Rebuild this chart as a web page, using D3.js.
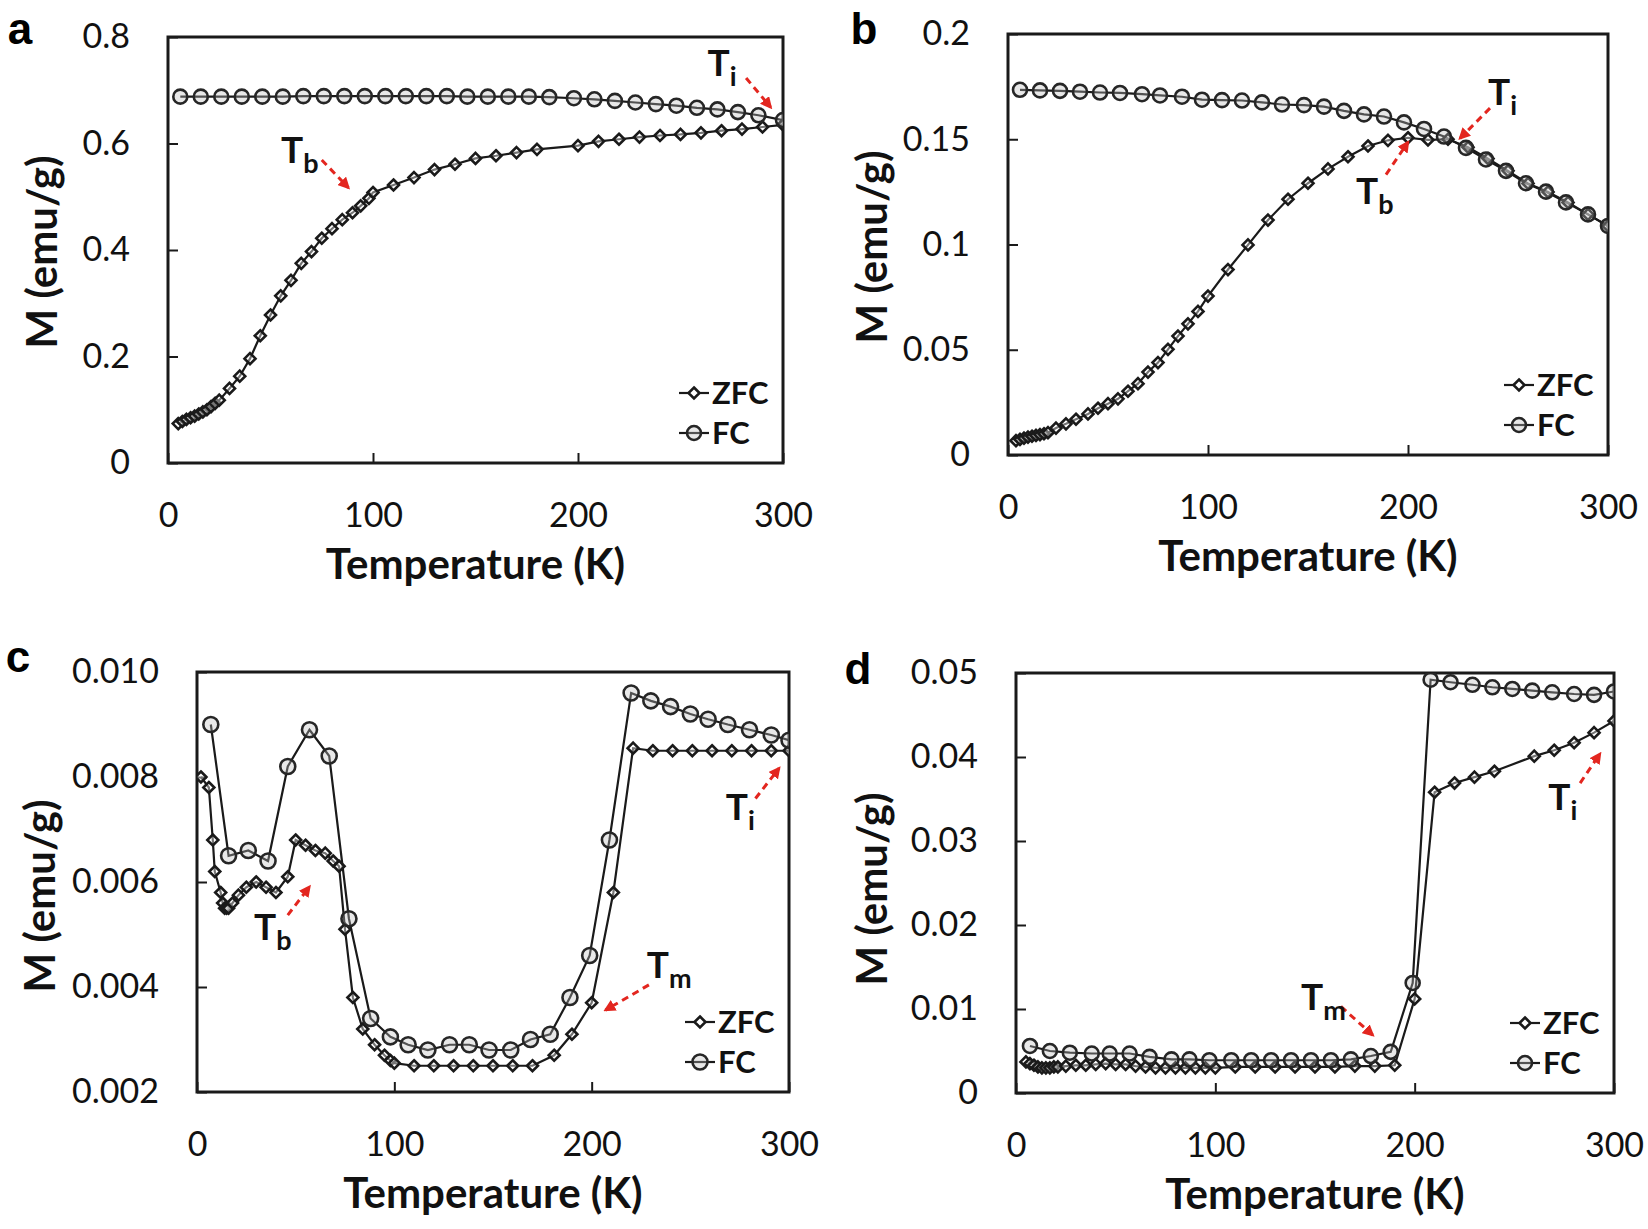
<!DOCTYPE html>
<html>
<head>
<meta charset="utf-8">
<script src="https://cdn.jsdelivr.net/npm/d3@7"></script>
<style>
  body { margin: 0; background: #fff; }
  svg { display: block; }
</style>
</head>
<body>
<script>
// panel a data
const aZfcT = [5, 7, 9, 11, 13, 15, 17, 19, 21, 23, 25, 30, 35, 40, 45, 50, 55, 60, 65, 70, 75, 80, 85, 90, 94, 98, 100, 110, 120, 130, 140, 150, 160, 170, 180, 200, 210, 220, 230, 240, 250, 260, 270, 280, 290, 300];
const aZfcM = [0.074, 0.078, 0.082, 0.085, 0.088, 0.092, 0.096, 0.1, 0.106, 0.112, 0.118, 0.14, 0.163, 0.196, 0.239, 0.278, 0.314, 0.343, 0.375, 0.397, 0.422, 0.44, 0.457, 0.47, 0.483, 0.497, 0.508, 0.522, 0.536, 0.551, 0.561, 0.572, 0.577, 0.583, 0.589, 0.596, 0.604, 0.608, 0.612, 0.615, 0.617, 0.62, 0.624, 0.627, 0.631, 0.635];
const aFcT = [6, 16, 26, 36, 46, 56, 66, 76, 86, 96, 106, 116, 126, 136, 146, 156, 166, 176, 186, 198, 208, 218, 228, 238, 248, 258, 268, 278, 288, 300];
const aFcM = [0.688, 0.688, 0.688, 0.688, 0.688, 0.688, 0.689, 0.689, 0.689, 0.689, 0.689, 0.689, 0.689, 0.689, 0.688, 0.688, 0.688, 0.688, 0.687, 0.685, 0.683, 0.68, 0.677, 0.674, 0.671, 0.667, 0.664, 0.659, 0.653, 0.644];

// panel b data
const bZfcT = [4, 6, 8, 10, 12, 14, 16, 18, 20, 24, 29, 34, 40, 45, 50, 55, 60, 65, 70, 75, 80, 85, 90, 95, 100, 110, 120, 130, 140, 150, 160, 170, 180, 190, 200, 210, 220, 230, 240, 250, 260, 270, 280, 290, 300];
const bZfcM = [0.0068, 0.0074, 0.008, 0.0085, 0.0089, 0.0093, 0.0097, 0.0101, 0.0106, 0.0128, 0.0148, 0.017, 0.0195, 0.0222, 0.0244, 0.0267, 0.0303, 0.0339, 0.0394, 0.0439, 0.0502, 0.0565, 0.0623, 0.0682, 0.0755, 0.0881, 0.0998, 0.1116, 0.1215, 0.1291, 0.1359, 0.1417, 0.1468, 0.1495, 0.1507, 0.1497, 0.15, 0.1462, 0.1408, 0.135, 0.129, 0.125, 0.12, 0.1143, 0.1088];
const bFcT = [6, 16, 26, 36, 46, 56, 67, 76, 87, 97, 107, 117, 127, 137, 148, 158, 168, 178, 188, 198, 208, 218, 229, 239, 249, 259, 269, 279, 290, 300];
const bFcM = [0.1735, 0.1732, 0.173, 0.1726, 0.1722, 0.172, 0.1714, 0.1708, 0.1702, 0.1688, 0.1686, 0.1684, 0.1675, 0.1665, 0.1662, 0.1655, 0.1635, 0.1618, 0.1608, 0.158, 0.1549, 0.1513, 0.1459, 0.1404, 0.135, 0.1291, 0.1251, 0.12, 0.1143, 0.1088];

// panel c data
const cZfcT = [2, 6, 8, 9, 12, 13, 14, 15, 16, 18, 21, 25, 30, 35, 40, 46, 50, 55, 60, 65, 69, 72, 75, 79, 84, 90, 95, 98, 100, 110, 120, 130, 140, 150, 160, 170, 181, 190, 200, 211, 221, 231, 241, 251, 261, 271, 281, 291, 300];
const cZfcM = [0.008, 0.0078, 0.0068, 0.0062, 0.0058, 0.0056, 0.0055, 0.0055, 0.0055, 0.0056, 0.00575, 0.0059, 0.006, 0.0059, 0.0058, 0.0061, 0.0068, 0.0067, 0.0066, 0.00655, 0.0064, 0.0063, 0.0051, 0.0038, 0.0032, 0.0029, 0.0027, 0.0026, 0.00255, 0.0025, 0.0025, 0.0025, 0.0025, 0.0025, 0.0025, 0.0025, 0.0027, 0.0031, 0.0037, 0.0058, 0.00855, 0.0085, 0.0085, 0.0085, 0.0085, 0.0085, 0.0085, 0.0085, 0.0085];
const cFcT = [7, 16, 26, 36, 46, 57, 67, 77, 88, 98, 107, 117, 128, 138, 148, 159, 169, 179, 189, 199, 209, 220, 230, 240, 250, 259, 269, 280, 291, 300];
const cFcM = [0.009, 0.0065, 0.0066, 0.0064, 0.0082, 0.0089, 0.0084, 0.0053, 0.0034, 0.00305, 0.0029, 0.0028, 0.0029, 0.0029, 0.0028, 0.0028, 0.003, 0.0031, 0.0038, 0.0046, 0.0068, 0.0096, 0.00945, 0.00934, 0.0092, 0.0091, 0.009, 0.0089, 0.0088, 0.0087];

// panel d data
const dZfcT = [5, 7, 9, 11, 13, 15, 17, 19, 21, 25, 30, 35, 40, 45, 50, 55, 60, 65, 70, 75, 80, 85, 90, 95, 100, 110, 120, 130, 140, 150, 160, 170, 180, 190, 200, 210, 220, 230, 240, 260, 270, 280, 290, 300];
const dZfcM = [0.0037, 0.0035, 0.0033, 0.0031, 0.003, 0.003, 0.003, 0.0031, 0.0031, 0.0032, 0.0033, 0.0033, 0.0034, 0.0035, 0.0034, 0.0034, 0.0032, 0.0031, 0.003, 0.003, 0.003, 0.003, 0.003, 0.003, 0.003, 0.0031, 0.0031, 0.0031, 0.0031, 0.0031, 0.0031, 0.0032, 0.0032, 0.0033, 0.0112, 0.0358, 0.0369, 0.0376, 0.0383, 0.0401, 0.0408, 0.0417, 0.0429, 0.0443];
const dFcT = [7, 17, 27, 38, 47, 57, 67, 78, 87, 97, 108, 118, 128, 138, 148, 158, 168, 178, 188, 199, 208, 218, 229, 239, 249, 259, 269, 280, 290, 300];
const dFcM = [0.0056, 0.005, 0.0048, 0.0047, 0.0047, 0.0047, 0.0043, 0.004, 0.004, 0.0039, 0.0039, 0.0039, 0.0039, 0.0039, 0.0039, 0.0039, 0.004, 0.0044, 0.0049, 0.0131, 0.0492, 0.0489, 0.0486, 0.0483, 0.0481, 0.0479, 0.0477, 0.0475, 0.0474, 0.0478];

// tick values
const xTicks = [0, 100, 200, 300];
const aTicks = [0, 0.2, 0.4, 0.6, 0.8];
const bTicks = [0, 0.05, 0.1, 0.15, 0.2];
const cTicks = [0.002, 0.004, 0.006, 0.008, 0.01];
const dTicks = [0, 0.01, 0.02, 0.03, 0.04, 0.05];

// annotations: label pos [T, M], arrow from/to
const aNotes = [
  { name: "T", sub: "i", at: [269, 0.752], from: [282, 0.723], to: [294, 0.668] },
  { name: "T", sub: "b", at: [61, 0.587], from: [75, 0.569], to: [88, 0.517] },
];
const bNotes = [
  { name: "T", sub: "i", at: [246, 0.1725], from: [241, 0.1648], to: [226, 0.1504] },
  { name: "T", sub: "b", at: [180, 0.1255], from: [189, 0.1332], to: [200, 0.1486] },
];
const cNotes = [
  { name: "T", sub: "b", at: [35, 0.00515], from: [46, 0.00537], to: [57, 0.00591] },
  { name: "T", sub: "i", at: [274, 0.00742], from: [283, 0.00759], to: [295, 0.00817] },
  { name: "T", sub: "m", at: [234, 0.00442], from: [229, 0.00404], to: [207, 0.00356] },
];
const dNotes = [
  { name: "T", sub: "m", at: [149, 0.0114], from: [163, 0.0103], to: [179, 0.00688] },
  { name: "T", sub: "i", at: [273, 0.0352], from: [283, 0.0369], to: [293, 0.0404] },
];

const zip = (ts, ms) => ts.map((t, i) => ({ t: t, m: ms[i] }));

const panels = [
  { id: "a", left: 168, right: 783, top: 37, bottom: 463, yMax: 0.8, yMin: 0, yTicks: aTicks, fmt: d3.format(""),
    zfc: zip(aZfcT, aZfcM), fc: zip(aFcT, aFcM), notes: aNotes, letter: [20, 44], yTitle: [42, 252], r: 7 },
  { id: "b", left: 1008, right: 1608, top: 34, bottom: 455, yMax: 0.2, yMin: 0, yTicks: bTicks, fmt: d3.format(""),
    zfc: zip(bZfcT, bZfcM), fc: zip(bFcT, bFcM), notes: bNotes, letter: [864, 44], yTitle: [872, 247], r: 7 },
  { id: "c", left: 197, right: 789, top: 672, bottom: 1092, yMax: 0.01, yMin: 0.002, yTicks: cTicks, fmt: d3.format(".3f"),
    zfc: zip(cZfcT, cZfcM), fc: zip(cFcT, cFcM), notes: cNotes, letter: [18, 672], yTitle: [40, 896], r: 7.5 },
  { id: "d", left: 1016, right: 1614, top: 673, bottom: 1093, yMax: 0.05, yMin: 0, yTicks: dTicks, fmt: d3.format(""),
    zfc: zip(dZfcT, dZfcM), fc: zip(dFcT, dFcM), notes: dNotes, letter: [858, 684], yTitle: [872, 889], r: 7 },
];

const W = 1648;
const H = 1229;
const ink = "#1a1a1a";
const red = "#e3261f";
const font = "Lato, 'Open Sans', sans-serif";

const svg = d3.select("body").append("svg").attr("width", W).attr("height", H);
svg.append("rect").attr("width", W).attr("height", H).attr("fill", "#fff");

const defs = svg.append("defs");
defs.append("marker")
  .attr("id", "arrow")
  .attr("viewBox", "0 0 10 10")
  .attr("refX", 8)
  .attr("refY", 5)
  .attr("markerWidth", 4)
  .attr("markerHeight", 4)
  .attr("orient", "auto")
  .append("path")
  .attr("d", "M0,0 L10,5 L0,10 Z")
  .attr("fill", red);

// diamond path
const diamond = (s) => `M0,${-s} L${s},0 L0,${s} L${-s},0 Z`;

function drawPanel(p) {
  const x = d3.scaleLinear().domain([0, 300]).range([p.left, p.right]);
  const y = d3.scaleLinear().domain([p.yMin, p.yMax]).range([p.bottom, p.top]);
  const g = svg.append("g").attr("class", "panel-" + p.id);

  defs.append("clipPath")
    .attr("id", "clip-" + p.id)
    .append("rect")
    .attr("x", p.left)
    .attr("y", p.top)
    .attr("width", p.right - p.left)
    .attr("height", p.bottom - p.top);

  // axes with inward ticks
  const xAxis = g.append("g")
    .attr("transform", `translate(0,${p.bottom})`)
    .call(d3.axisBottom(x).tickValues(xTicks).tickSize(-10).tickPadding(40).tickFormat(d3.format("d")));
  const yAxis = g.append("g")
    .attr("transform", `translate(${p.left},0)`)
    .call(d3.axisLeft(y).tickValues(p.yTicks).tickSize(-10).tickPadding(38).tickFormat(p.fmt));
  [xAxis, yAxis].forEach((ax) => {
    ax.select(".domain").remove();
    ax.selectAll("line").attr("stroke", ink).attr("stroke-width", 2);
    ax.selectAll("text")
      .attr("fill", "#111")
      .style("font-family", font)
      .style("font-size", "34px");
  });

  // frame
  g.append("rect")
    .attr("x", p.left)
    .attr("y", p.top)
    .attr("width", p.right - p.left)
    .attr("height", p.bottom - p.top)
    .attr("fill", "none")
    .attr("stroke", ink)
    .attr("stroke-width", 3);

  const plot = g.append("g").attr("clip-path", `url(#clip-${p.id})`);
  const line = d3.line().x((d) => x(d.t)).y((d) => y(d.m));

  // series lines
  [p.zfc, p.fc].forEach((s) => {
    plot.append("path")
      .datum(s)
      .attr("d", line)
      .attr("fill", "none")
      .attr("stroke", ink)
      .attr("stroke-width", 2.2);
  });

  // zfc diamonds
  plot.selectAll(".zfc")
    .data(p.zfc)
    .enter()
    .append("path")
    .attr("class", "zfc")
    .attr("transform", (d) => `translate(${x(d.t)},${y(d.m)})`)
    .attr("d", diamond(5.5))
    .attr("fill", "rgba(255,255,255,0.4)")
    .attr("stroke", ink)
    .attr("stroke-width", 2.6);

  // fc circles
  plot.selectAll(".fc")
    .data(p.fc)
    .enter()
    .append("circle")
    .attr("class", "fc")
    .attr("cx", (d) => x(d.t))
    .attr("cy", (d) => y(d.m))
    .attr("r", p.r)
    .attr("fill", "rgba(190,190,190,0.35)")
    .attr("stroke", "#262626")
    .attr("stroke-width", 2.6);

  // legend
  const legend = g.append("g").attr("transform", `translate(${p.right},${p.bottom})`);
  [["ZFC", -70], ["FC", -30]].forEach(([name, dy], i) => {
    legend.append("line")
      .attr("x1", -104).attr("x2", -74)
      .attr("y1", dy).attr("y2", dy)
      .attr("stroke", ink).attr("stroke-width", 2.2);
    if (i === 0) {
      legend.append("path")
        .attr("transform", `translate(-89,${dy})`)
        .attr("d", diamond(5.5))
        .attr("fill", "#fff")
        .attr("stroke", ink)
        .attr("stroke-width", 2.6);
    } else {
      legend.append("circle")
        .attr("cx", -89).attr("cy", dy).attr("r", p.r)
        .attr("fill", "rgba(190,190,190,0.35)")
        .attr("stroke", "#262626")
        .attr("stroke-width", 2.6);
    }
    legend.append("text")
      .attr("x", -71)
      .attr("y", dy)
      .attr("dy", "0.36em")
      .text(name)
      .style("font-family", font)
      .style("font-weight", 700)
      .style("font-size", "31px")
      .attr("fill", "#111");
  });

  // annotations
  p.notes.forEach((n) => {
    g.append("line")
      .attr("x1", x(n.from[0])).attr("y1", y(n.from[1]))
      .attr("x2", x(n.to[0])).attr("y2", y(n.to[1]))
      .attr("stroke", red)
      .attr("stroke-width", 3)
      .attr("stroke-dasharray", "7,5")
      .attr("marker-end", "url(#arrow)");
    const t = g.append("text")
      .attr("x", x(n.at[0]) - 12)
      .attr("y", y(n.at[1]) + 13)
      .style("font-family", font)
      .style("font-weight", 700)
      .attr("fill", "#111");
    t.append("tspan").text(n.name).style("font-size", "37px");
    t.append("tspan").attr("dy", 10).text(n.sub).style("font-size", "27px");
  });

  // axis titles
  g.append("text")
    .attr("x", (p.left + p.right) / 2)
    .attr("y", p.bottom + 116)
    .attr("text-anchor", "middle")
    .text("Temperature (K)")
    .style("font-family", font)
    .style("font-weight", 700)
    .style("font-size", "42px")
    .attr("fill", "#111");

  g.append("text")
    .attr("transform", `translate(${p.yTitle[0]},${p.yTitle[1]}) rotate(-90)`)
    .attr("text-anchor", "middle")
    .attr("dy", "0.35em")
    .text("M (emu/g)")
    .style("font-family", font)
    .style("font-weight", 700)
    .style("font-size", "42px")
    .attr("fill", "#111");

  // panel letter
  g.append("text")
    .attr("x", p.letter[0])
    .attr("y", p.letter[1])
    .attr("text-anchor", "middle")
    .text(p.id)
    .style("font-family", "'Liberation Sans', Arial, sans-serif")
    .style("font-weight", 700)
    .style("font-size", "44px")
    .attr("fill", "#000");
}

panels.forEach(drawPanel);
</script>
</body>
</html>
